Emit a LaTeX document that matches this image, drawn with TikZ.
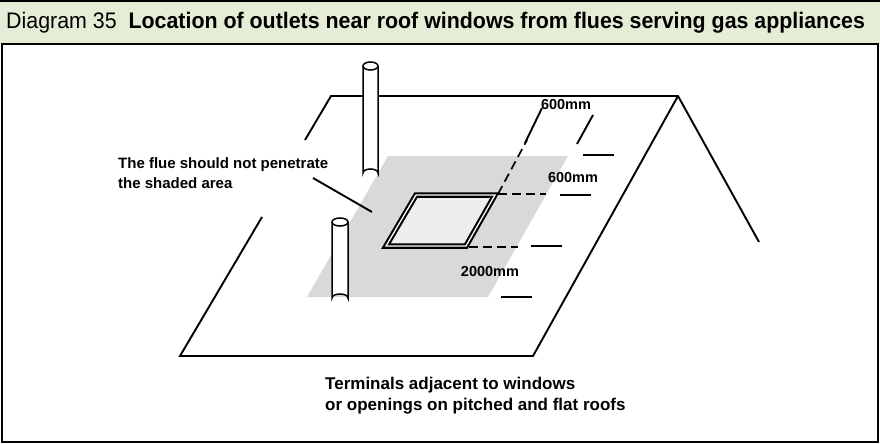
\documentclass[tikz,border=0pt]{standalone}
\usepackage{fontspec}
\setmainfont{Liberation Sans}
\newfontfamily\condf[FakeStretch=0.95]{Liberation Sans}
\begin{document}
\begin{tikzpicture}[x=1pt,y=-1pt,
  ln/.style={line width=1.9pt},
  dsh/.style={line width=1.7pt,dash pattern=on 9pt off 5pt},
  lbl/.style={font=\bfseries\fontsize{14.5}{16}\selectfont,inner sep=0pt},
  flue/.style={fill=white,draw,line width=1.5pt}]
\useasboundingbox (0,0) rectangle (880,444);
\fill[fill={rgb,255:red,229;green,237;blue,214}] (0,0) rectangle (880,44);
\draw[line width=1.2pt] (0,1) -- (880,1);
\draw[line width=1.4pt] (2,44) rectangle (878,442);
\node[anchor=west,inner sep=0pt,font=\condf\fontsize{22.5}{26}\selectfont] (title) at (6,23) {Diagram 35\ \ \textbf{Location of outlets near roof windows from flues serving gas appliances}};
% shaded area
\fill[gray!30] (388,156) coordinate (s1) -- (568,156) -- (488,297) -- (307,297) -- cycle;
% roof
\draw[ln] (305,140) -- (331,96) -- (678,96) -- (759,242);
\draw[ln] (262,217) -- (180,356) -- (533,356) -- (678,96);
% window
\draw[line width=5.5pt,fill={rgb,255:red,238;green,238;blue,238},line join=miter] (416,195) -- (495,195) -- (466,246) -- (386,246) -- cycle;
\draw[white,line width=1.3pt,line join=miter] (416,195) -- (495,195) -- (466,246) -- (386,246) -- cycle;
% dimension lines
\coordinate (w1) at (498,194);
\coordinate (w2) at (469,247);
\coordinate (d1) at (527,140);
\coordinate (d2) at (546,194);
\coordinate (d3) at (518,247);
\draw[dsh] (w1) -- (d1);
\draw[ln] (525,143) coordinate (a1) -- (542,108) coordinate (a2);
\draw[ln] (577,144) coordinate (b1) -- (593,115) coordinate (b2);
\draw[dsh] (w1) -- (d2);
\draw[dsh] (w2) -- (d3);
\draw[ln] (583,155) coordinate (h1) -- (614,155) coordinate (h2);
\draw[ln] (560,195) coordinate (h3) -- (591,195) coordinate (h4);
\draw[ln] (531,246) coordinate (h5) -- (562,246) coordinate (h6);
\draw[ln] (501,297) coordinate (h7) -- (532,297) coordinate (h8);
\node[lbl] (l1) at (566,105) {600mm};
\node[lbl] (l2) at (573,178) {600mm};
\node[lbl] (l3) at (490,272) {2000mm};
% flues
\draw[flue] (363,66) -- (363,173) arc[start angle=180,end angle=360,x radius=7.5,y radius=4] -- (378,66);
\draw[flue] (370.5,66) ellipse[x radius=7.5,y radius=4];
\draw[flue] (332,222) -- (332,298) arc[start angle=180,end angle=360,x radius=8,y radius=4] -- (348,222);
\draw[flue] (340,222) ellipse[x radius=8,y radius=4];
% label
\node[lbl,anchor=west,align=left,font=\bfseries\fontsize{15}{20}\selectfont] (note) at (118,173) {The flue should not penetrate\\the shaded area};
\coordinate (n1) at (313,178);
\coordinate (n2) at (372,212);
\draw[ln] (n1) -- (n2);
\node[anchor=west,align=left,inner sep=0pt,font=\bfseries\fontsize{17}{21}\selectfont] (cap) at (325,396) {Terminals adjacent to windows\\or openings on pitched and flat roofs};
\end{tikzpicture}
\end{document}
